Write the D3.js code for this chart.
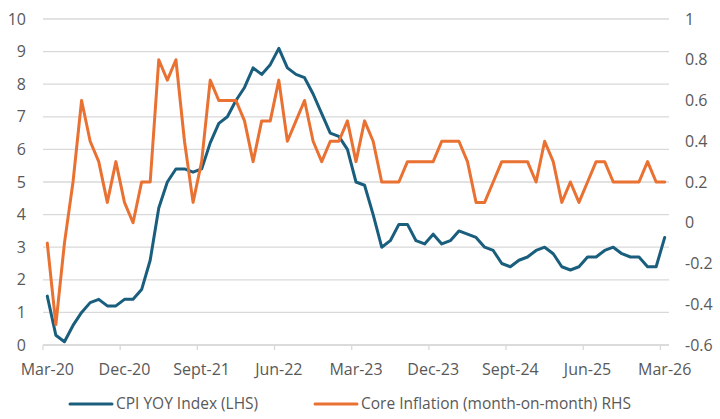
<!DOCTYPE html>
<html>
<head>
<meta charset="utf-8">
<script src="https://cdn.jsdelivr.net/npm/d3@7"></script>
<style>
  html, body { margin: 0; padding: 0; background: #ffffff; }
  svg { display: block; }
  text { font-family: "Open Sans", "Liberation Sans", Arial, sans-serif; fill: #595959; }
</style>
</head>
<body>
<svg id="chart" width="720" height="419"></svg>
<script>
// Monthly observations, Mar-20 through Mar-26
const firstMonth = new Date(2020, 2, 1);
const monthCount = 73;

// CPI year-on-year (%), left axis
const cpiYoY = [
  1.5, 0.3, 0.1, 0.6, 1.0, 1.3, 1.4, 1.2, 1.2, 1.4, 1.4, 1.7, 2.6, 4.2, 5.0, 5.4, 5.4, 5.3, 5.4,
  6.2, 6.8, 7.0, 7.5, 7.9, 8.5, 8.3, 8.6, 9.1, 8.5, 8.3, 8.2, 7.7, 7.1, 6.5, 6.4, 6.0,
  5.0, 4.9, 4.0, 3.0, 3.2, 3.7, 3.7, 3.2, 3.1, 3.4, 3.1, 3.2, 3.5, 3.4, 3.3, 3.0, 2.9, 2.5, 2.4,
  2.6, 2.7, 2.9, 3.0, 2.8, 2.4, 2.3, 2.4, 2.7, 2.7, 2.9, 3.0, 2.8, 2.7, 2.7, 2.4, 2.4, 3.3
];

// Core inflation month-on-month (%), right axis
const coreMoM = [
  -0.1, -0.5, -0.1, 0.2, 0.6, 0.4, 0.3, 0.1, 0.3, 0.1, 0.0, 0.2, 0.2, 0.8, 0.7, 0.8, 0.4, 0.1, 0.3,
  0.7, 0.6, 0.6, 0.6, 0.5, 0.3, 0.5, 0.5, 0.7, 0.4, 0.5, 0.6, 0.4, 0.3, 0.4, 0.4, 0.5,
  0.3, 0.5, 0.4, 0.2, 0.2, 0.2, 0.3, 0.3, 0.3, 0.3, 0.4, 0.4, 0.4, 0.3, 0.1, 0.1, 0.2, 0.3, 0.3,
  0.3, 0.3, 0.2, 0.4, 0.3, 0.1, 0.2, 0.1, 0.2, 0.3, 0.3, 0.2, 0.2, 0.2, 0.2, 0.3, 0.2, 0.2
];

// Axis ticks
const xTickLabels = ["Mar-20", "Dec-20", "Sept-21", "Jun-22", "Mar-23", "Dec-23", "Sept-24", "Jun-25", "Mar-26"];
const xTickStep = 9;
const leftTicks = [0, 1, 2, 3, 4, 5, 6, 7, 8, 9, 10];
const rightTicks = [-0.6, -0.4, -0.2, 0, 0.2, 0.4, 0.6, 0.8, 1];

const seriesNames = ["CPI YOY Index (LHS)", "Core Inflation (month-on-month) RHS"];
const seriesColors = ["#1A5E7E", "#E97132"];

const months = d3.timeMonth.range(firstMonth, d3.timeMonth.offset(firstMonth, monthCount));

const plot = { left: 43, right: 669, top: 19, bottom: 345 };
const svg = d3.select("#chart");

const x = d3.scaleBand().domain(months.map((d, i) => i)).range([plot.left, plot.right]).padding(0);
const bw = x.bandwidth();
const yL = d3.scaleLinear().domain([0, 10]).range([plot.bottom, plot.top]);
const yR = d3.scaleLinear().domain([-0.6, 1]).range([plot.bottom, plot.top]);

// Horizontal gridlines from the left axis
svg.append("g")
  .selectAll("line")
  .data(leftTicks)
  .join("line")
  .attr("x1", plot.left).attr("x2", plot.right)
  .attr("y1", d => yL(d)).attr("y2", d => yL(d))
  .attr("stroke", "#d9d9d9").attr("stroke-width", 1.3);

// Left axis
const gL = svg.append("g").attr("transform", `translate(${plot.left},0)`)
  .call(d3.axisLeft(yL).tickValues(leftTicks).tickSize(0).tickPadding(17).tickFormat(d3.format("d")));
gL.select(".domain").remove();
gL.selectAll("text").style("font-size", "16px").attr("fill", "#595959");

// Right axis
const gR = svg.append("g").attr("transform", `translate(${plot.right},0)`)
  .call(d3.axisRight(yR).tickValues(rightTicks).tickSize(0).tickPadding(16)
    .tickFormat(d => String(+d.toFixed(1))));
gR.select(".domain").remove();
gR.selectAll("text").style("font-size", "16px").attr("fill", "#595959");

// Bottom category axis: tick marks on category boundaries, labels centred on the category
const tickIdx = xTickLabels.map((_, k) => k * xTickStep);
const gB = svg.append("g").attr("transform", `translate(0,${plot.bottom})`)
  .call(d3.axisBottom(x).tickValues(tickIdx).tickSize(5)
    .tickFormat((d, k) => xTickLabels[k]));
gB.select(".domain").attr("stroke", "#d9d9d9").attr("stroke-width", 1.3)
  .attr("d", `M${plot.left},0H${plot.right}`);
gB.selectAll(".tick line").attr("x1", -bw / 2).attr("x2", -bw / 2)
  .attr("stroke", "#d9d9d9").attr("stroke-width", 1.3);
gB.selectAll(".tick text").style("font-size", "16px").attr("fill", "#595959")
  .attr("y", 30).attr("dy", 0);

const cx = i => x(i) + bw / 2;

// CPI YoY line (left scale)
svg.append("path")
  .datum(cpiYoY)
  .attr("fill", "none")
  .attr("stroke", seriesColors[0])
  .attr("stroke-width", 3)
  .attr("stroke-linejoin", "round")
  .attr("stroke-linecap", "round")
  .attr("d", d3.line().x((d, i) => cx(i)).y(d => yL(d)));

// Core m/m line (right scale)
svg.append("path")
  .datum(coreMoM)
  .attr("fill", "none")
  .attr("stroke", seriesColors[1])
  .attr("stroke-width", 3)
  .attr("stroke-linejoin", "round")
  .attr("stroke-linecap", "round")
  .attr("d", d3.line().x((d, i) => cx(i)).y(d => yR(d)));

// Legend
const legendItems = [
  { name: seriesNames[0], color: seriesColors[0], x: 70 },
  { name: seriesNames[1], color: seriesColors[1], x: 315 }
];
const legendY = 404;
const lg = svg.append("g").selectAll("g").data(legendItems).join("g")
  .attr("transform", d => `translate(${d.x},${legendY})`);
lg.append("line").attr("x1", 0).attr("x2", 42).attr("y1", 0).attr("y2", 0)
  .attr("stroke", d => d.color).attr("stroke-width", 3).attr("stroke-linecap", "round");
lg.append("text").attr("x", 46).attr("y", 0).attr("dy", "0.35em")
  .style("font-size", "15.5px").attr("fill", "#595959")
  .text(d => d.name);
</script>
</body>
</html>
